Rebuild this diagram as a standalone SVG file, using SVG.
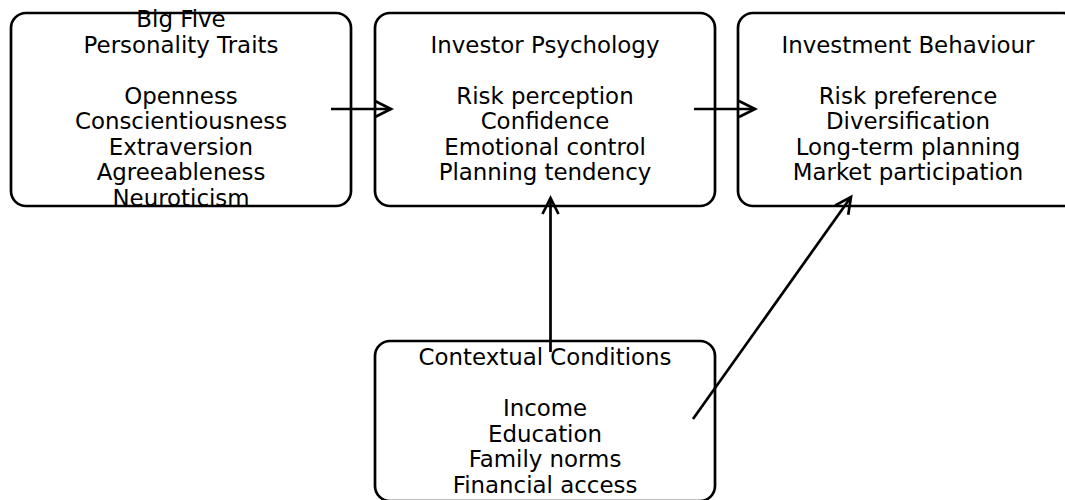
<svg xmlns="http://www.w3.org/2000/svg" width="1065" height="500" viewBox="0 0 1065 500">
<style>
.box{fill:#fff;stroke:#000;stroke-width:2.7}
.t{font-family:"DejaVu Sans",sans-serif;font-size:22.9px;fill:#000;text-anchor:middle}
.c{stroke:#000;stroke-width:2.7;fill:none}
</style>
<defs>
<marker id="ah" markerUnits="userSpaceOnUse" orient="auto" refX="0" refY="0" markerWidth="40" markerHeight="40" overflow="visible">
<path d="M-16,-8 L0,0 L-16,8" fill="none" stroke="#000" stroke-width="2.7"/>
</marker>
</defs>
<rect width="1065" height="500" fill="#fff"/>
<g id="node-bigfive">
<rect class="box" x="11" y="13" width="340" height="193" rx="15"/>
<text class="t"><tspan x="181" y="27">Big Five</tspan><tspan x="181" y="52.5">Personality Traits</tspan><tspan x="181" y="103.5">Openness</tspan><tspan x="181" y="129">Conscientiousness</tspan><tspan x="181" y="154.5">Extraversion</tspan><tspan x="181" y="180">Agreeableness</tspan><tspan x="181" y="205.5">Neuroticism</tspan></text>
</g>
<g id="node-psychology">
<rect class="box" x="375" y="13" width="340" height="193" rx="15"/>
<text class="t"><tspan x="545" y="52.5">Investor Psychology</tspan><tspan x="545" y="103.5">Risk perception</tspan><tspan x="545" y="129">Confidence</tspan><tspan x="545" y="154.5">Emotional control</tspan><tspan x="545" y="180">Planning tendency</tspan></text>
</g>
<g id="node-behaviour">
<rect class="box" x="738" y="13" width="340" height="193" rx="15"/>
<text class="t"><tspan x="908" y="52.5">Investment Behaviour</tspan><tspan x="908" y="103.5">Risk preference</tspan><tspan x="908" y="129">Diversification</tspan><tspan x="908" y="154.5">Long-term planning</tspan><tspan x="908" y="180">Market participation</tspan></text>
</g>
<g id="node-context">
<rect class="box" x="375" y="341" width="340" height="160" rx="15"/>
<text class="t"><tspan x="545" y="365">Contextual Conditions</tspan><tspan x="545" y="416">Income</tspan><tspan x="545" y="441.5">Education</tspan><tspan x="545" y="467">Family norms</tspan><tspan x="545" y="492.5">Financial access</tspan></text>
</g>
<g id="connectors">
<line class="c" x1="331" y1="109" x2="391" y2="109" marker-end="url(#ah)"/>
<line class="c" x1="694" y1="109" x2="755" y2="109" marker-end="url(#ah)"/>
<line class="c" x1="550.5" y1="352" x2="550.5" y2="198" marker-end="url(#ah)"/>
<line class="c" x1="693" y1="419" x2="851" y2="197" marker-end="url(#ah)"/>
</g>
</svg>
